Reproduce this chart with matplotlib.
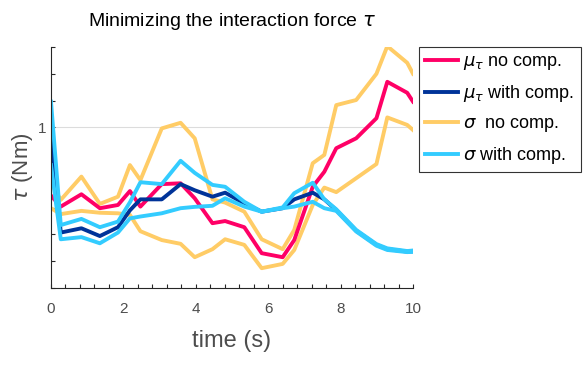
import numpy as np
import matplotlib
matplotlib.use('Agg')
import matplotlib.pyplot as plt
from matplotlib.ticker import MultipleLocator

plt.rcParams['font.family'] = ['Liberation Sans', 'DejaVu Sans']
plt.rcParams['mathtext.fontset'] = 'dejavusans'

# sample times (s)
t = [0, 0.27, 0.84, 1.35, 1.85, 2.18, 2.47, 3.06, 3.58, 3.97, 4.46, 4.81,
     5.34, 5.82, 6.4, 6.72, 7.23, 7.55, 7.88, 8.43, 8.99, 9.29, 9.84, 10]

# mean force, no compensation
mu_nc = [0.745, 0.704, 0.75, 0.698, 0.71, 0.762, 0.704, 0.788, 0.791, 0.735, 0.642, 0.65,
         0.627, 0.53, 0.515, 0.579, 0.778, 0.834, 0.922, 0.959, 1.034, 1.17, 1.129, 1.096]
# mu +/- sigma, no compensation
sig_nc_hi = [0.791, 0.729, 0.816, 0.714, 0.741, 0.859, 0.803, 0.996, 1.017, 0.959, 0.731, 0.719,
             0.685, 0.582, 0.545, 0.617, 0.866, 0.897, 1.083, 1.102, 1.2, 1.303, 1.241, 1.2]
sig_nc_lo = [0.698, 0.676, 0.688, 0.681, 0.679, 0.673, 0.612, 0.579, 0.565, 0.515, 0.545, 0.582,
             0.561, 0.474, 0.49, 0.542, 0.71, 0.775, 0.758, 0.81, 0.863, 1.037, 1.009, 0.99]

# mean force, with compensation
mu_wc = [0.978, 0.607, 0.623, 0.594, 0.627, 0.69, 0.731, 0.731, 0.788, 0.765, 0.741, 0.756,
         0.716, 0.685, 0.698, 0.731, 0.756, 0.731, 0.691, 0.614, 0.561, 0.545, 0.536, 0.537]
# mu +/- sigma, with compensation
sig_wc_hi = [1.096, 0.635, 0.658, 0.627, 0.648, 0.72, 0.795, 0.788, 0.875, 0.83, 0.785, 0.778,
             0.722, 0.685, 0.701, 0.754, 0.793, 0.731, 0.694, 0.617, 0.564, 0.548, 0.538, 0.54]
sig_wc_lo = [0.859, 0.582, 0.59, 0.567, 0.607, 0.66, 0.667, 0.679, 0.698, 0.703, 0.707, 0.735,
             0.704, 0.685, 0.698, 0.704, 0.722, 0.698, 0.688, 0.611, 0.558, 0.542, 0.534, 0.535]

c_pink = '#ff0066'
c_blue = '#003399'
c_orange = '#ffcc66'
c_cyan = '#33ccff'
grey = '#4d4d4d'
lw = 2.8

fig = plt.figure(figsize=(5.87, 3.65), dpi=100)
ax = fig.add_axes([51/587, 1-288/365, (413-51)/587, (288-47)/365])

h_on, = ax.plot(t, sig_nc_hi, color=c_orange, lw=lw, label=r'$\sigma$  no comp.')
ax.plot(t, sig_nc_lo, color=c_orange, lw=lw)
h_mn, = ax.plot(t, mu_nc, color=c_pink, lw=lw, label=r'$\mu_\tau$ no comp.')
h_mw, = ax.plot(t, mu_wc, color=c_blue, lw=lw, label=r'$\mu_\tau$ with comp.')
h_cw, = ax.plot(t, sig_wc_hi, color=c_cyan, lw=lw, label=r'$\sigma$ with comp.')
ax.plot(t, sig_wc_lo, color=c_cyan, lw=lw)

ax.set_xlim(0, 10)
ax.set_ylim(0.4, 1.3)
ax.set_xticks([0, 2, 4, 6, 8, 10])
ax.xaxis.set_minor_locator(MultipleLocator(0.4))
ax.set_yticks([1])
ax.yaxis.set_minor_locator(MultipleLocator(0.1))
ax.tick_params(which='both', direction='in', length=3, width=0.8, colors='#262626',
               labelcolor=grey, labelsize=11)
ax.tick_params(axis='x', pad=10)
ax.grid(axis='y', which='major', color='#dcdcdc', lw=0.8)
ax.set_axisbelow(True)
for s in ['top', 'right']:
    ax.spines[s].set_visible(False)
for s in ['left', 'bottom']:
    ax.spines[s].set_color('#262626')
    ax.spines[s].set_linewidth(0.8)

ax.set_xlabel('time (s)', fontsize=17, color=grey, labelpad=10)
ax.set_ylabel(r'$\tau$ (Nm)', fontsize=16, color=grey, labelpad=2)
ax.set_title(r'Minimizing the interaction force $\tau$', fontsize=14, pad=15)

leg = fig.legend(handles=[h_mn, h_mw, h_on, h_cw], loc='upper left',
                 bbox_to_anchor=(419/587, 1-47/365), borderaxespad=0,
                 fontsize=13, handlelength=1.8, handletextpad=0.3,
                 labelspacing=0.6, borderpad=0.35, fancybox=False)
leg.get_frame().set_edgecolor('black')
leg.get_frame().set_linewidth(0.8)

fig.savefig('out.png', dpi=100)
